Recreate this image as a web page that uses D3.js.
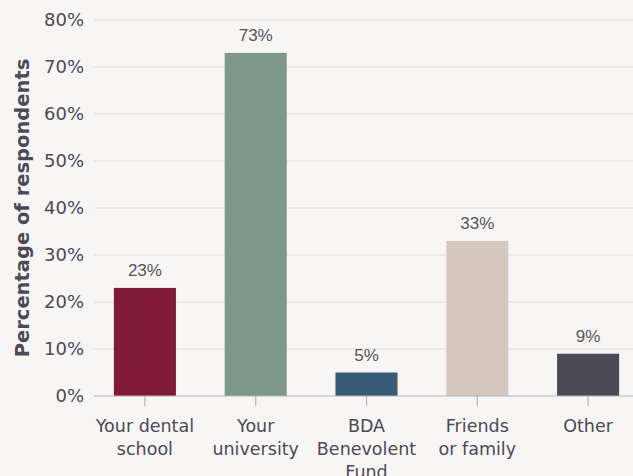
<!DOCTYPE html>
<html>
<head>
<meta charset="utf-8">
<script src="https://cdn.jsdelivr.net/npm/d3@7"></script>
<style>
  html, body { margin: 0; padding: 0; background: #f7f6f5; }
  svg { display: block; }
</style>
</head>
<body>
<svg id="chart" width="633" height="476"></svg>
<script>
// Where respondents would seek support
const categories = [
  ["Your dental", "school"],
  ["Your", "university"],
  ["BDA", "Benevolent", "Fund"],
  ["Friends", "or family"],
  ["Other"]
];
const values = [23, 73, 5, 33, 9];
const barColors = ["#7f1937", "#7d978b", "#385b77", "#d6c8bf", "#4a4954"];
const yTicks = [0, 10, 20, 30, 40, 50, 60, 70, 80];
const yTitle = "Percentage of respondents";

const W = 633, H = 476;
const font = "'DejaVu Sans', sans-serif";
const textColor = "#4a4954";

const svg = d3.select("#chart");
svg.append("rect").attr("width", W).attr("height", H).attr("fill", "#f7f6f5");

const y = d3.scaleLinear().domain([0, 80]).range([396, 20]);
const x = d3.scaleBand()
  .domain(d3.range(values.length))
  .range([89.5, 643.5])
  .paddingInner(0.44)
  .paddingOuter(0.22);

// gridlines
svg.append("g").selectAll("line")
  .data(yTicks.filter(t => t > 0))
  .join("line")
  .attr("x1", 94).attr("x2", W)
  .attr("y1", d => y(d)).attr("y2", d => y(d))
  .attr("stroke", "#dedcdc").attr("stroke-width", 1.2);

// y tick labels
svg.append("g").selectAll("text")
  .data(yTicks)
  .join("text")
  .attr("x", 84).attr("y", d => y(d))
  .attr("dy", "0.36em")
  .attr("text-anchor", "end")
  .attr("font-family", font).attr("font-size", 18)
  .attr("fill", textColor)
  .text(d => d + "%");

// y title
svg.append("text")
  .attr("transform", `translate(29,${y(40)}) rotate(-90)`)
  .attr("text-anchor", "middle")
  .attr("font-family", font).attr("font-size", 19.5).attr("font-weight", 700)
  .attr("fill", textColor)
  .text(yTitle);

// bars
svg.append("g").selectAll("rect")
  .data(values)
  .join("rect")
  .attr("x", (d, i) => x(i))
  .attr("width", x.bandwidth())
  .attr("y", d => y(d))
  .attr("height", d => y(0) - y(d))
  .attr("fill", (d, i) => barColors[i]);

// value labels
svg.append("g").selectAll("text")
  .data(values)
  .join("text")
  .attr("x", (d, i) => x(i) + x.bandwidth() / 2)
  .attr("y", d => y(d) - 12)
  .attr("text-anchor", "middle")
  .attr("font-family", "'Liberation Sans', Arial, sans-serif").attr("font-size", 17)
  .attr("fill", "#555555")
  .text(d => d + "%");

// x axis line and ticks
svg.append("line")
  .attr("x1", 94).attr("x2", W)
  .attr("y1", y(0)).attr("y2", y(0))
  .attr("stroke", "#b4b2b8").attr("stroke-width", 1.2);
svg.append("g").selectAll("line")
  .data(values)
  .join("line")
  .attr("x1", (d, i) => x(i) + x.bandwidth() / 2)
  .attr("x2", (d, i) => x(i) + x.bandwidth() / 2)
  .attr("y1", y(0)).attr("y2", y(0) + 10)
  .attr("stroke", "#b4b2b8").attr("stroke-width", 1.2);

// category labels
const xl = svg.append("g").selectAll("text")
  .data(categories)
  .join("text")
  .attr("x", (d, i) => x(i) + x.bandwidth() / 2)
  .attr("y", 432)
  .attr("text-anchor", "middle")
  .attr("font-family", font).attr("font-size", 17.5)
  .attr("fill", textColor);
xl.selectAll("tspan")
  .data(d => d)
  .join("tspan")
  .attr("x", function () { return this.parentNode.getAttribute("x"); })
  .attr("dy", (d, i) => i === 0 ? 0 : 23)
  .text(d => d);
</script>
</body>
</html>
